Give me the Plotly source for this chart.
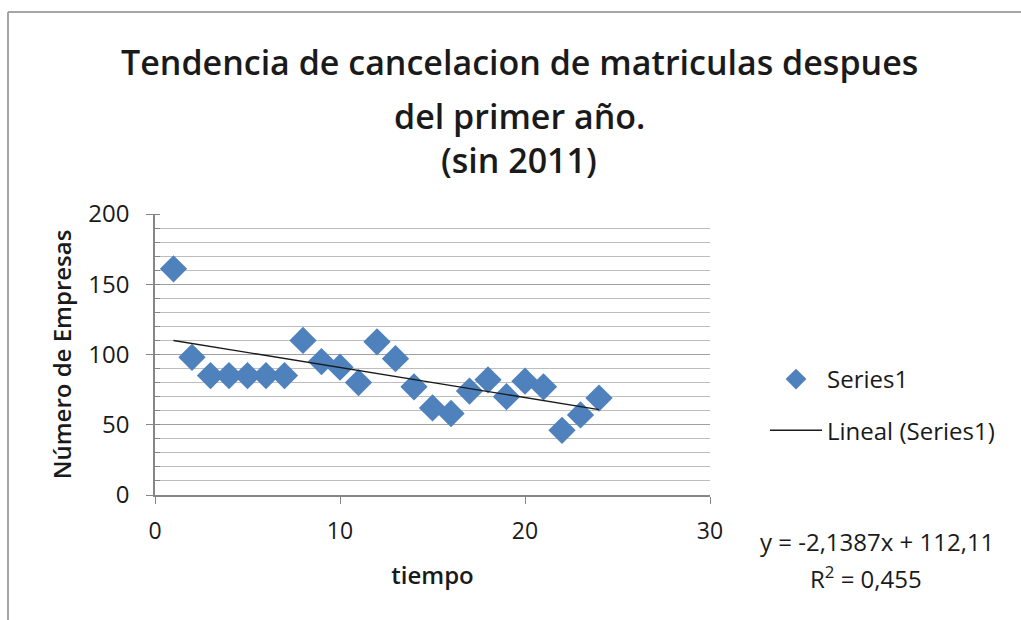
import plotly.graph_objects as go

# ---- data ----
tiempo = list(range(1, 25))
empresas = [161, 98, 85, 85, 85, 85, 85, 110, 95, 91, 80, 109,
            97, 77, 62, 58, 74, 82, 70, 81, 77, 46, 57, 69]
trend_slope = -2.1387
trend_intercept = 112.11
r_squared = 0.455

title_lines = ["Tendencia de cancelacion de matriculas despues",
               "del primer año.",
               "(sin 2011)"]
x_title = "tiempo"
y_title = "Número de Empresas"
series_name = "Series1"
trend_name = "Lineal (Series1)"

# ---- layout geometry (pixels) ----
W, H = 1021, 620
L, R, T, B = 155, 311, 214, 125
PW, PH = W - L - R, H - T - B

def px_x(p):
    return (p - L) / PW

def px_y(p):
    return (H - B - p) / PH

FONT = "Open Sans"
TXT = "#1a1a1a"

trend_x = [min(tiempo), max(tiempo)]
trend_y = [trend_slope * x + trend_intercept for x in trend_x]

fig = go.Figure()
fig.add_trace(go.Scatter(
    x=tiempo, y=empresas, mode="markers", name=series_name,
    legendgroup="a",
    marker=dict(symbol="diamond", size=21, color="#4F81BD",
                line=dict(width=0)),
))
fig.add_trace(go.Scatter(
    x=trend_x, y=trend_y, mode="lines", name=trend_name,
    legendgroup="b",
    line=dict(color="#1a1a1a", width=1.4),
))

annotations = []
title_y = [62, 116, 160]
for line, py in zip(title_lines, title_y):
    annotations.append(dict(
        text=line, xref="paper", yref="paper", x=px_x(519), y=px_y(py),
        xanchor="center", yanchor="middle", showarrow=False,
        font=dict(family=FONT, size=34, color=TXT, weight=600),
    ))

def fmt(v, nd):
    return f"{abs(v):.{nd}f}".replace(".", ",")

eq = (f"y = {'-' if trend_slope < 0 else ''}{fmt(trend_slope, 4)}x "
      f"{'+' if trend_intercept >= 0 else '-'} {fmt(trend_intercept, 2)}")
annotations.append(dict(
    text=eq, xref="paper", yref="paper", x=px_x(877), y=px_y(541),
    xanchor="center", yanchor="middle", showarrow=False,
    font=dict(family=FONT, size=24, color=TXT),
))
annotations.append(dict(
    text=f"R<sup>2</sup> = {fmt(r_squared, 3)}", xref="paper", yref="paper",
    x=px_x(866), y=px_y(577), xanchor="center", yanchor="middle",
    showarrow=False, font=dict(family=FONT, size=24, color=TXT),
))

shapes = [
    dict(type="line", xref="paper", yref="paper",
         x0=px_x(8), x1=px_x(W), y0=px_y(12), y1=px_y(12),
         line=dict(color="#a6a6a6", width=2)),
    dict(type="line", xref="paper", yref="paper",
         x0=px_x(8), x1=px_x(8), y0=px_y(12), y1=px_y(H),
         line=dict(color="#a6a6a6", width=2)),
]

fig.update_layout(
    width=W, height=H,
    margin=dict(l=L, r=R, t=T, b=B, autoexpand=False),
    paper_bgcolor="white", plot_bgcolor="white",
    font=dict(family=FONT, size=24, color=TXT),
    showlegend=True,
    legend=dict(x=px_x(765), y=px_y(357), xanchor="left", yanchor="top",
                font=dict(family=FONT, size=24, color=TXT),
                traceorder="grouped", tracegroupgap=17, itemwidth=52,
                bgcolor="rgba(0,0,0,0)"),
    annotations=annotations,
    shapes=shapes,
    xaxis=dict(
        range=[0, 30], dtick=10, tick0=0, showgrid=False, zeroline=False,
        showline=True, linecolor="#868686", linewidth=1.5,
        ticks="outside", ticklen=7, tickcolor="#868686",
        ticklabelstandoff=8,
        tickfont=dict(family=FONT, size=23, color=TXT),
        title=dict(text=x_title, standoff=22,
                   font=dict(family=FONT, size=24, color=TXT, weight=600)),
    ),
    yaxis=dict(
        range=[0, 200], dtick=50, tick0=0, zeroline=False,
        showgrid=True, gridcolor="#a0a0a0", gridwidth=1.4,
        minor=dict(dtick=10, showgrid=True, gridcolor="#bdbdbd",
                   gridwidth=1.2, ticks="inside", ticklen=5,
                   tickcolor="#868686"),
        showline=True, linecolor="#868686", linewidth=1.5,
        ticks="outside", ticklen=7, tickcolor="#868686",
        ticklabelstandoff=12,
        tickfont=dict(family=FONT, size=24, color=TXT),
        title=dict(text=y_title, standoff=10,
                   font=dict(family=FONT, size=24, color=TXT, weight=600)),
    ),
)

fig.write_html("out.html", config={"displayModeBar": False},
               post_script="document.body.style.margin='0';")
